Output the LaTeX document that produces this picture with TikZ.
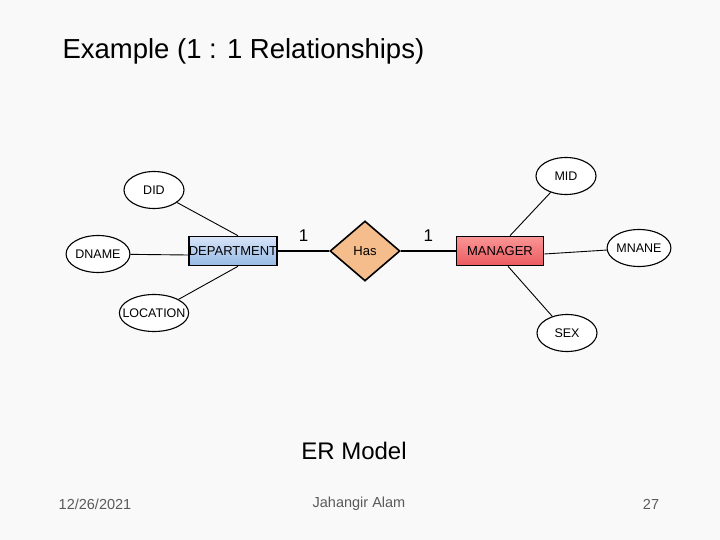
\documentclass[tikz,border=0pt]{standalone}
\usepackage{fontspec}
\setmainfont{Liberation Sans}
\usetikzlibrary{shapes.geometric}
\begin{document}
\begin{tikzpicture}[x=1pt,y=-1pt,
 attr/.style={draw,ellipse,line width=1.1pt,fill=white,minimum width=60pt,minimum height=37pt,inner sep=0pt,font=\fontsize{12.5}{14}\selectfont},
 ent/.style={draw,line width=1.6pt,minimum width=87pt,minimum height=29pt,inner sep=0pt,font=\fontsize{13}{15}\selectfont},
 con/.style={line width=0.9pt}]
\useasboundingbox[fill={rgb,255:red,249;green,249;blue,249}] (0,0) rectangle (720,540);
\node[anchor=west,font=\fontsize{27.5}{32}\selectfont] (title) at (59,51) {Example (1 : 1 Relationships)};
\node[attr] (did) at (154,190) {DID};
\node[attr] (dname) at (98,254) {DNAME};
\node[attr,inner xsep=-7pt] (loc) at (154,313) {LOCATION};
\node[ent,top color={rgb,255:red,215;green,228;blue,248},bottom color={rgb,255:red,150;green,185;blue,228}] (dept) at (233,251) {DEPARTMENT};
\node[draw,line width=1.6pt,diamond,aspect=1.15,minimum width=70pt,minimum height=60pt,inner sep=0pt,fill={rgb,255:red,245;green,188;blue,140},font=\fontsize{13}{15}\selectfont] (has) at (365,251) {Has};
\node[ent,top color={rgb,255:red,250;green,150;blue,150},bottom color={rgb,255:red,235;green,90;blue,95}] (mgr) at (500,251) {MANAGER};
\node[attr] (mid) at (566,176) {MID};
\node[attr] (mnane) at (639,248) {MNANE};
\node[attr] (sex) at (567,333) {SEX};
\draw[con] (did) -- ([xshift=5pt]dept.north);
\draw[con] (dname) -- ([yshift=-4pt]dept.west);
\draw[con] (loc) -- ([xshift=5pt]dept.south);
\draw[con] (mid) -- ([xshift=10pt]mgr.north);
\draw[con] (mnane) -- ([yshift=-3pt]mgr.east);
\draw[con] (sex) -- ([xshift=8pt]mgr.south);
\draw[line width=1.6pt] (dept) -- (has) node[pos=0.5,above=5pt,font=\fontsize{17}{19}\selectfont] (one1) {1};
\draw[line width=1.6pt] (has) -- (mgr) node[pos=0.5,above=5pt,font=\fontsize{17}{19}\selectfont] (one2) {1};
\node[font=\fontsize{24}{27}\selectfont] (er) at (354,451) {ER Model};
\node[font=\fontsize{14.5}{16}\selectfont,text={rgb,255:red,90;green,90;blue,90}] (date) at (95,504) {12/26/2021};
\node[font=\fontsize{14.5}{16}\selectfont,text={rgb,255:red,90;green,90;blue,90}] (auth) at (359,504) {Jahangir Alam};
\node[font=\fontsize{14.5}{16}\selectfont,text={rgb,255:red,90;green,90;blue,90}] (pg) at (651,504) {27};
\end{tikzpicture}
\end{document}
